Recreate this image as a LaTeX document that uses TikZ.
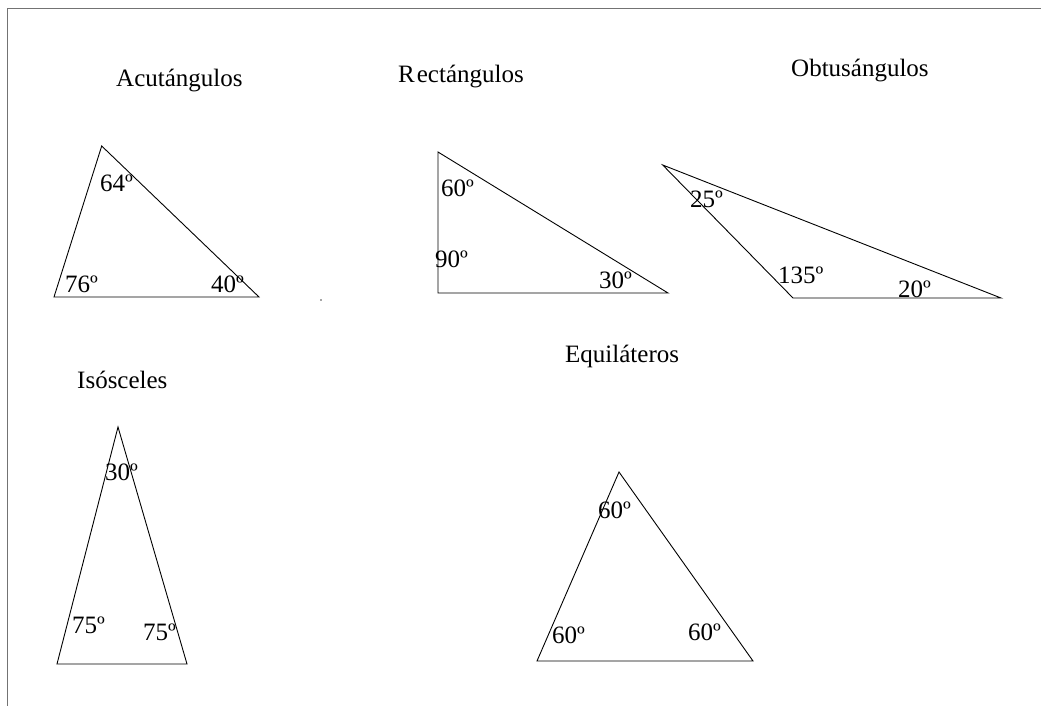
\documentclass[tikz,border=0pt]{standalone}
\usepackage{fontspec}
\setmainfont{Liberation Serif}
\begin{document}
\begin{tikzpicture}[x=1pt,y=-1pt,
  lbl/.style={anchor=base west,inner sep=0pt,font=\fontsize{25}{29}\selectfont},
  tri/.style={draw=black,line width=0.9pt,line join=miter},
  frameline/.style={draw=black!55,line width=1.5pt}]
\useasboundingbox (0,0) rectangle (1041,706);
\fill[white] (0,0) rectangle (1041,706);
% partial frame
\coordinate (fTR) at (1041,8.5);
\coordinate (fTL) at (7.5,8.5);
\coordinate (fBL) at (7.5,706);
\draw[frameline] (fTR) -- (fTL) -- (fBL);
% stray speck
\fill[black!35] (319.5,298.5) rectangle (321.5,300.5);
% titles
\node[lbl] (tAcu) at (116,87) {Acutángulos};
\node[lbl] (tRec) at (398,83) {R\kern2pt ectángulos};
\node[lbl] (tObt) at (791,77) {Obtusángulos};
\node[lbl] (tIso) at (77,388) {Isósceles};
\node[lbl] (tEqu) at (565,362) {Equiláteros};
% acutangle
\coordinate (a1) at (101.7,146);
\coordinate (a2) at (54,297);
\coordinate (a3) at (259,297);
\draw[tri] (a1) -- (a2) -- (a3) -- cycle;
\node[lbl] (a64) at (100,191) {64º};
\node[lbl] (a76) at (65,292) {76º};
\node[lbl] (a40) at (211,292) {40º};
% right
\coordinate (r1) at (438,152);
\coordinate (r2) at (438,293);
\coordinate (r3) at (668,293);
\draw[tri] (r1) -- (r2) -- (r3) -- cycle;
\node[lbl] (r60) at (441,196) {60º};
\node[lbl] (r90) at (435,267) {90º};
\node[lbl] (r30) at (599,288) {30º};
% obtuse
\coordinate (o1) at (662.7,165);
\coordinate (o2) at (793,298);
\coordinate (o3) at (1001,298);
\draw[tri] (o1) -- (o2) -- (o3) -- cycle;
\node[lbl] (o25) at (690,207) {25º};
\node[lbl] (o135) at (778,283) {135º};
\node[lbl] (o20) at (898,297) {20º};
% isosceles
\coordinate (i1) at (118,427);
\coordinate (i2) at (57,664);
\coordinate (i3) at (187,664);
\draw[tri] (i1) -- (i2) -- (i3) -- cycle;
\node[lbl] (i30) at (105,480) {30º};
\node[lbl] (i75a) at (72,633) {75º};
\node[lbl] (i75b) at (143,640) {75º};
% equilateral
\coordinate (e1) at (619,472);
\coordinate (e2) at (537,661);
\coordinate (e3) at (753,661);
\draw[tri] (e1) -- (e2) -- (e3) -- cycle;
\node[lbl] (e60a) at (598,518) {60º};
\node[lbl] (e60b) at (552,643) {60º};
\node[lbl] (e60c) at (688,640) {60º};
\end{tikzpicture}
\end{document}
